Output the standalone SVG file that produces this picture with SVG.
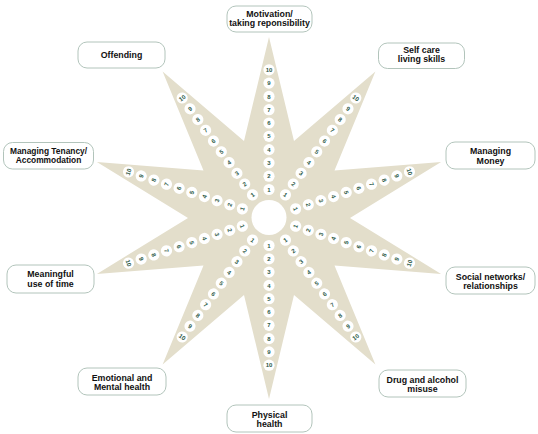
<svg xmlns="http://www.w3.org/2000/svg" xmlns:xlink="http://www.w3.org/1999/xlink" width="538" height="434" viewBox="0 0 538 434">
<style>
.box{fill:#fff;stroke:#a9bdb3;stroke-width:0.9}
.lbl{font-family:"Liberation Sans",Arial,sans-serif;font-size:8.8px;font-weight:bold;fill:#111;text-anchor:middle}
.sm{font-size:8.4px}
.dot{fill:#fff}
.num{font-family:"Liberation Sans",Arial,sans-serif;font-size:6px;font-weight:bold;fill:#2d5a47;text-anchor:middle}
</style>
<defs>
<g id="spoke">
<circle class="dot" cx="0" cy="-28" r="5.6"/>
<circle class="dot" cx="0" cy="-41.3" r="5.6"/>
<circle class="dot" cx="0" cy="-54.6" r="5.6"/>
<circle class="dot" cx="0" cy="-67.9" r="5.6"/>
<circle class="dot" cx="0" cy="-81.2" r="5.6"/>
<circle class="dot" cx="0" cy="-94.5" r="5.6"/>
<circle class="dot" cx="0" cy="-107.8" r="5.6"/>
<circle class="dot" cx="0" cy="-121.1" r="5.6"/>
<circle class="dot" cx="0" cy="-134.4" r="5.6"/>
<circle class="dot" cx="0" cy="-147.7" r="5.6"/>
</g>
<g id="nums">
<text class="num" x="0" y="-25.9">1</text>
<text class="num" x="0" y="-39.2">2</text>
<text class="num" x="0" y="-52.5">3</text>
<text class="num" x="0" y="-65.8">4</text>
<text class="num" x="0" y="-79.1">5</text>
<text class="num" x="0" y="-92.4">6</text>
<text class="num" x="0" y="-105.7">7</text>
<text class="num" x="0" y="-119">8</text>
<text class="num" x="0" y="-132.3">9</text>
<text class="num" x="0" y="-145.6">10</text>
</g>
<g id="numsflip">
<text class="num" x="0" y="-25.9" transform="rotate(180 0 -28)">1</text>
<text class="num" x="0" y="-39.2" transform="rotate(180 0 -41.3)">2</text>
<text class="num" x="0" y="-52.5" transform="rotate(180 0 -54.6)">3</text>
<text class="num" x="0" y="-65.8" transform="rotate(180 0 -67.9)">4</text>
<text class="num" x="0" y="-79.1" transform="rotate(180 0 -81.2)">5</text>
<text class="num" x="0" y="-92.4" transform="rotate(180 0 -94.5)">6</text>
<text class="num" x="0" y="-105.7" transform="rotate(180 0 -107.8)">7</text>
<text class="num" x="0" y="-119" transform="rotate(180 0 -121.1)">8</text>
<text class="num" x="0" y="-132.3" transform="rotate(180 0 -134.4)">9</text>
<text class="num" x="0" y="-145.6" transform="rotate(180 0 -147.7)">10</text>
</g>
</defs>
<g id="star">
<polygon fill="#e3decb" points="269,37 294,141 375.4,71.6 334.5,170.4 441.1,162.1 350,218 441.1,273.9 334.5,265.6 375.4,364.4 294,295 269,399 244,295 162.6,364.4 203.5,265.6 96.9,273.9 188,218 96.9,162.1 203.5,170.4 162.6,71.6 244,141"/>
<circle cx="269" cy="217.5" r="17.5" fill="#fff"/>
</g>
<g id="scales" transform="translate(269 217.5)">
<g transform="rotate(0)"><use xlink:href="#spoke"/><use xlink:href="#nums"/></g>
<g transform="rotate(36)"><use xlink:href="#spoke"/><use xlink:href="#nums"/></g>
<g transform="rotate(72)"><use xlink:href="#spoke"/><use xlink:href="#nums"/></g>
<g transform="rotate(108)"><use xlink:href="#spoke"/><use xlink:href="#numsflip"/></g>
<g transform="rotate(144)"><use xlink:href="#spoke"/><use xlink:href="#numsflip"/></g>
<g transform="rotate(180)"><use xlink:href="#spoke"/><use xlink:href="#numsflip"/></g>
<g transform="rotate(216)"><use xlink:href="#spoke"/><use xlink:href="#numsflip"/></g>
<g transform="rotate(252)"><use xlink:href="#spoke"/><use xlink:href="#numsflip"/></g>
<g transform="rotate(288)"><use xlink:href="#spoke"/><use xlink:href="#nums"/></g>
<g transform="rotate(324)"><use xlink:href="#spoke"/><use xlink:href="#nums"/></g>
</g>
<g id="connectors"></g>
<g id="n-motivation"><rect class="box" x="227" y="6" width="85" height="26" rx="9"/><text class="lbl" x="269.5" y="17">Motivation/</text><text class="lbl" x="269.5" y="26">taking reponsibility</text></g>
<g id="n-selfcare"><rect class="box" x="378.5" y="43" width="86" height="25.5" rx="9"/><text class="lbl" x="421.5" y="53">Self care</text><text class="lbl" x="421.5" y="61.5">living skills</text></g>
<g id="n-money"><rect class="box" x="446" y="142" width="89" height="27" rx="9"/><text class="lbl" x="490.5" y="153.5">Managing</text><text class="lbl" x="490.5" y="163.5">Money</text></g>
<g id="n-social"><rect class="box" x="446" y="267" width="89" height="27" rx="9"/><text class="lbl" x="490.5" y="279.5">Social networks/</text><text class="lbl" x="490.5" y="288.5">relationships</text></g>
<g id="n-drug"><rect class="box" x="379" y="370" width="87" height="27" rx="9"/><text class="lbl" x="422.5" y="383">Drug and alcohol</text><text class="lbl" x="422.5" y="392">misuse</text></g>
<g id="n-physical"><rect class="box" x="227" y="405" width="85" height="27" rx="9"/><text class="lbl" x="269.5" y="418">Physical</text><text class="lbl" x="269.5" y="427">health</text></g>
<g id="n-emotional"><rect class="box" x="78" y="368" width="88" height="27" rx="9"/><text class="lbl" x="122" y="381">Emotional and</text><text class="lbl" x="122" y="390">Mental health</text></g>
<g id="n-meaningful"><rect class="box" x="7" y="265" width="87" height="28" rx="9"/><text class="lbl" x="50.5" y="277">Meaningful</text><text class="lbl" x="50.5" y="287">use of time</text></g>
<g id="n-tenancy"><rect class="box" x="3.5" y="142.5" width="90" height="26.5" rx="9"/><text class="lbl sm" x="48.5" y="154">Managing Tenancy/</text><text class="lbl sm" x="48.5" y="163">Accommodation</text></g>
<g id="n-offending"><rect class="box" x="78" y="42" width="87" height="26" rx="9"/><text class="lbl" x="121.5" y="58">Offending</text></g>
</svg>
